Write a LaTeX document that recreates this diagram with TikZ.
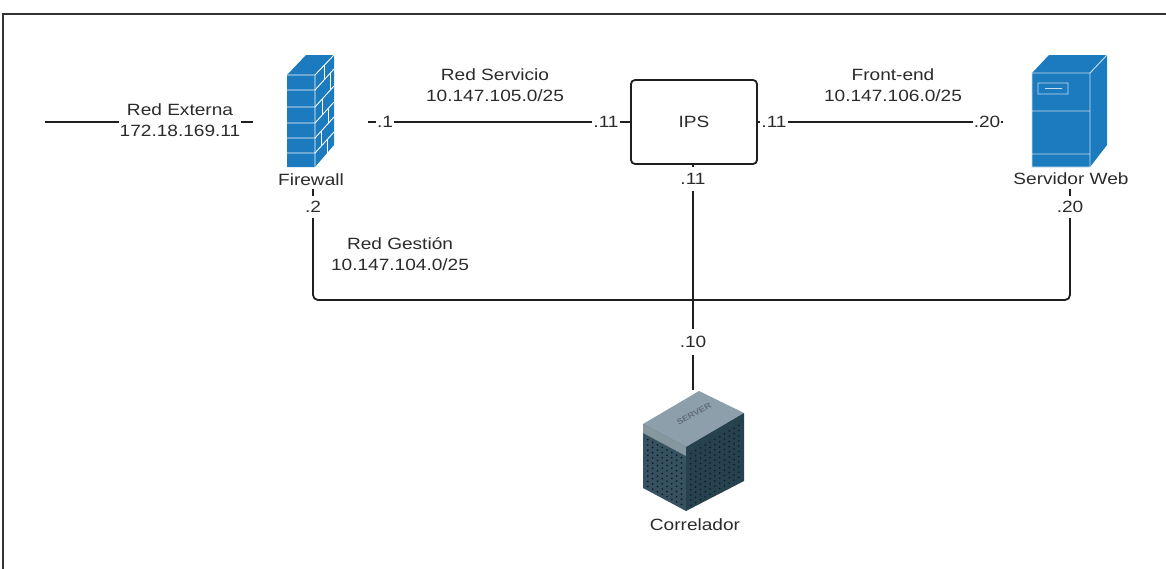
\documentclass[tikz,border=0pt]{standalone}
\usepackage{fontspec}
\setmainfont[FakeStretch=1.17]{Liberation Sans}
\definecolor{txt}{HTML}{2B2B2B}
\definecolor{lin}{HTML}{1F1F1F}
\begin{document}
\begin{tikzpicture}[x=1pt, y=-1pt, font=\fontsize{16.3}{21}\selectfont, text=txt,
  link/.style={draw=lin, line width=1.8pt},
  tag/.style={fill=white, inner xsep=1pt, inner ysep=5pt},
  netlabel/.style={align=center, inner sep=1pt}]
\useasboundingbox (0,0) rectangle (1166,568);
\draw[gray!40!black, line width=1.4pt] (1170,14) -- (3,14) -- (3,572);
\definecolor{col}{HTML}{1B7BBE}
\fill[col] (287,75) -- (306,55) -- (334,55) -- (334,145) -- (315,167) -- (287,167) -- cycle;
\draw[white, line width=0.9pt] (287,75) -- (315,75) -- (334,55) (315,75) -- (315,167);
\foreach \y in {90,107,123,138,153} {\draw[white, line width=0.9pt] (287,\y) -- (315,\y) -- ++(19,-21);}
\foreach \t/\b/\v in {75/90/324, 90/107/330, 107/123/322, 123/138/328, 138/153/321, 153/167/327}
  {\draw[white, line width=0.9pt] (\v,{\t-(\v-315)*21/19}) -- (\v,{\b-(\v-315)*21/19});}
\node (fwlabel) at (311,180) {Firewall};
\fill[col] (1032,73) -- (1049,55) -- (1107,55) -- (1107,145) -- (1090,167) -- (1032,167) -- cycle;
\draw[white!75!col, line width=0.9pt] (1032,73) rectangle (1090,167) (1090,73) -- (1107,55)
  (1038,83) rectangle (1068,94) (1045,88.5) -- (1062,88.5) (1032,111) -- (1090,111) (1032,154) -- (1090,154);
\node (weblabel) at (1071,179) {Servidor Web};
\definecolor{col}{HTML}{8D9FAB}
\fill[col] (643,424) -- (699,391) -- (744,413) -- (686,447) -- cycle;
\node[rotate=30, font=\bfseries\fontsize{8}{8}\selectfont, text=col!70!black] (srvtag) at (694,414) {SERVER};
\definecolor{col}{HTML}{36515F}
\fill[col] (643,424) -- (686,447) -- (686,511) -- (643,488) -- cycle;
\fill[col!60!white] (643,424) -- (686,447) -- (686,456) -- (643,433) -- cycle;
\definecolor{col}{HTML}{27424F}
\fill[col] (686,447) -- (744,413) -- (744,481) -- (686,511) -- cycle;
\foreach \i in {1,...,8} \foreach \j in {1,...,10}
  {\fill[black!70!col] ({643+\i*4.8},{424+\i*2.56+8+\j*5.2}) circle (0.9);}
\foreach \i in {1,...,11} \foreach \j in {1,...,11}
  {\fill[black!60!col] ({686+\i*4.8},{447-\i*2.8+4+\j*5.2}) circle (0.9);}
\node (corrlabel) at (695,525) {Correlador};
\node[draw=lin, line width=1.8pt, rounded corners=4pt, minimum width=126pt, minimum height=84pt] (ips) at (694,122) {IPS};
\coordinate (ext) at (45,122);
\coordinate (fwin) at (253,122);
\coordinate (fwout) at (368,122);
\coordinate (webin) at (1003,122);
\coordinate (fwbot) at (313,189);
\coordinate (webbot) at (1070,189);
\coordinate (corrtop) at (693,390);
\draw[link] (ext) -- (fwin);
\draw[link] (fwout) -- (ips.west);
\draw[link] (ips.east) -- (webin);
\draw[link, rounded corners=5pt] (fwbot) -- ++(0,111) -| (webbot);
\draw[link] (ips.south -| corrtop) -- (corrtop);
\node[netlabel, fill=white] (externa) at (180,120) {Red Externa\\172.18.169.11};
\node[netlabel] (servicio) at (495,85) {Red Servicio\\10.147.105.0/25};
\node[netlabel] (frontend) at (893,85) {Front-end\\10.147.106.0/25};
\node[netlabel] (gestion) at (400,254) {Red Gestión\\10.147.104.0/25};
\node[tag] (fwsrv) at (385,122) {.1};
\node[tag] (ipssrv) at (606,122) {.11};
\node[tag] (ipsfe) at (774,122) {.11};
\node[tag] (webfe) at (987,122) {.20};
\node[tag, inner ysep=5pt] (fwges) at (313,207) {.2};
\node[tag, inner ysep=5pt] (webges) at (1070,207) {.20};
\node[tag, inner ysep=6pt] (ipscor) at (693,179) {.11};
\node[tag, inner ysep=7pt] (corr) at (693,342) {.10};
\end{tikzpicture}
\end{document}
